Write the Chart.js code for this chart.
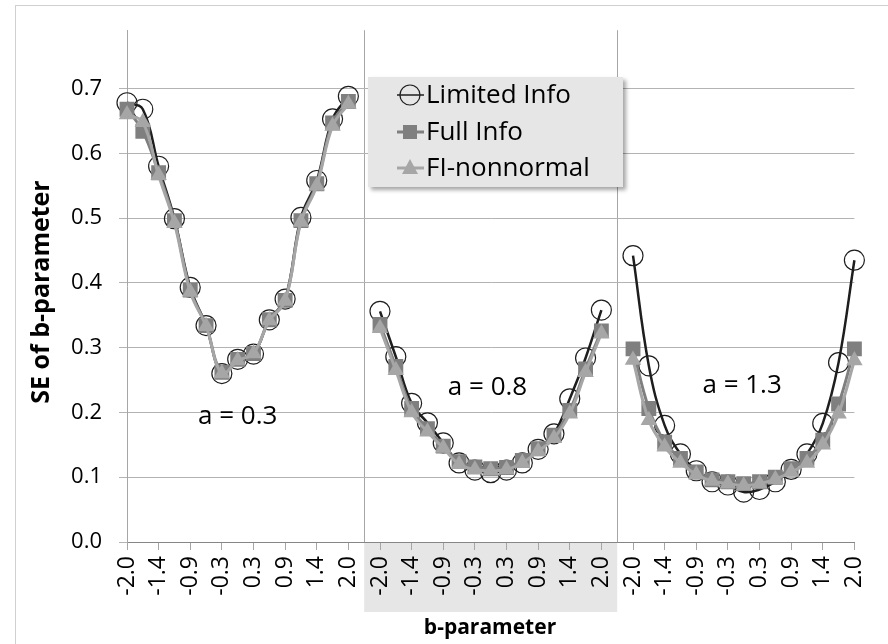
<!DOCTYPE html>
<html>
<head>
<meta charset="utf-8">
<script src="https://cdn.jsdelivr.net/npm/chart.js@4.4.1/dist/chart.umd.min.js"></script>
<style>
  html, body { margin: 0; padding: 0; background: #ffffff; }
  #wrap { width: 888px; height: 644px; position: relative; }
</style>
</head>
<body>
<div id="wrap"><canvas id="c" width="888" height="644"></canvas></div>
<script>
// ---------- DATA ----------
const bTickLabels = ['-2.0','-1.7','-1.4','-1.1','-0.9','-0.6','-0.3','0.0','0.3','0.6','0.9','1.1','1.4','1.7','2.0'];
const panelLabels = ['a = 0.3', 'a = 0.8', 'a = 1.3'];
const seriesNames = ['Limited Info', 'Full Info', 'FI-nonnormal'];

const limitedA03 = [0.678, 0.668, 0.580, 0.499, 0.393, 0.334, 0.260, 0.282, 0.290, 0.343, 0.375, 0.501, 0.558, 0.653, 0.688];
const fullA03    = [0.668, 0.634, 0.570, 0.496, 0.389, 0.334, 0.262, 0.282, 0.291, 0.343, 0.373, 0.496, 0.553, 0.647, 0.680];
const fiA03      = [0.660, 0.648, 0.566, 0.492, 0.386, 0.333, 0.260, 0.280, 0.291, 0.342, 0.372, 0.494, 0.550, 0.642, 0.676];

const limitedA08 = [0.356, 0.286, 0.214, 0.184, 0.153, 0.122, 0.111, 0.107, 0.111, 0.122, 0.143, 0.167, 0.221, 0.284, 0.358];
const fullA08    = [0.336, 0.271, 0.206, 0.175, 0.148, 0.124, 0.116, 0.113, 0.115, 0.126, 0.144, 0.165, 0.203, 0.267, 0.326];
const fiA08      = [0.330, 0.265, 0.200, 0.170, 0.145, 0.120, 0.112, 0.110, 0.112, 0.122, 0.140, 0.160, 0.198, 0.262, 0.322];

const limitedA13 = [0.442, 0.272, 0.180, 0.136, 0.110, 0.093, 0.088, 0.077, 0.081, 0.093, 0.112, 0.136, 0.183, 0.277, 0.435];
const fullA13    = [0.298, 0.206, 0.154, 0.129, 0.108, 0.096, 0.093, 0.090, 0.093, 0.100, 0.113, 0.129, 0.157, 0.213, 0.298];
const fiA13      = [0.281, 0.188, 0.147, 0.122, 0.104, 0.094, 0.090, 0.087, 0.090, 0.097, 0.108, 0.122, 0.150, 0.198, 0.280];

// ---------- BUILD ----------
function joinPanels(p1, p2, p3) { return [...p1, null, ...p2, null, ...p3]; }
const categories = [...bTickLabels, '', ...bTickLabels, '', ...bTickLabels];
const gapIdx = [bTickLabels.length, bTickLabels.length * 2 + 1];

const FONT = "'Open Sans', 'Noto Sans', 'Liberation Sans', sans-serif";
const COL_LI = '#1e1e1e', COL_FULL = '#7f7f7f', COL_FI = '#a6a6a6';

const extras = {
  id: 'extras',
  beforeDraw(chart) {
    const ctx = chart.ctx, xs = chart.scales.x, ca = chart.chartArea;
    const x1 = xs.getPixelForValue(gapIdx[0]), x2 = xs.getPixelForValue(gapIdx[1]);
    ctx.save();
    ctx.fillStyle = '#e6e6e6';
    ctx.fillRect(x1, ca.bottom + 1, x2 - x1, 69);
    ctx.restore();
  },
  afterDraw(chart) {
    const ctx = chart.ctx, xs = chart.scales.x, ys = chart.scales.y;
    ctx.save();
    // outer frame
    ctx.strokeStyle = '#d0d0d0'; ctx.lineWidth = 1;
    ctx.strokeRect(15.5, 5.5, 900, 700);

    // axis titles
    ctx.fillStyle = '#000';
    ctx.font = "bold 25px " + FONT;
    ctx.textAlign = 'center'; ctx.textBaseline = 'middle';
    ctx.save();
    ctx.translate(42, 292);
    ctx.rotate(-Math.PI / 2);
    ctx.fillText('SE of b-parameter', 0, 0);
    ctx.restore();
    ctx.font = "bold 21px " + FONT;
    ctx.fillText('b-parameter', 490, 628);

    // panel annotations
    const anchors = [[7, 0.194], [22.8, 0.238], [38.9, 0.241]];
    ctx.font = "26px " + FONT;
    panelLabels.forEach((t, i) => {
      ctx.fillText(t, xs.getPixelForValue(anchors[i][0]), ys.getPixelForValue(anchors[i][1]));
    });

    // legend box
    const lx = 368, ly = 77, lw = 255, lh = 110;
    ctx.save();
    ctx.shadowColor = 'rgba(0,0,0,0.35)';
    ctx.shadowBlur = 4; ctx.shadowOffsetX = 3; ctx.shadowOffsetY = 3;
    ctx.fillStyle = '#e6e6e6';
    ctx.fillRect(lx, ly, lw, lh);
    ctx.restore();
    const rows = [95, 132, 168];
    const cols = [COL_LI, COL_FULL, COL_FI];
    ctx.textAlign = 'left'; ctx.textBaseline = 'middle';
    ctx.font = "26px " + FONT;
    rows.forEach((ry, i) => {
      const mx = 410;
      ctx.strokeStyle = cols[i]; ctx.lineWidth = i === 0 ? 1.5 : 3;
      ctx.beginPath(); ctx.moveTo(397, ry); ctx.lineTo(424, ry); ctx.stroke();
      if (i === 0) {
        ctx.lineWidth = 1.2; ctx.strokeStyle = COL_LI;
        ctx.beginPath(); ctx.arc(mx, ry, 10, 0, Math.PI * 2); ctx.stroke();
      } else if (i === 1) {
        ctx.fillStyle = COL_FULL; ctx.fillRect(mx - 7, ry - 7, 14, 14);
      } else {
        ctx.fillStyle = COL_FI;
        ctx.beginPath(); ctx.moveTo(mx, ry - 9); ctx.lineTo(mx + 8, ry + 6); ctx.lineTo(mx - 8, ry + 6); ctx.closePath(); ctx.fill();
      }
      ctx.fillStyle = '#000';
      ctx.fillText(seriesNames[i], 426, ry + 1);
    });
    ctx.restore();
  }
};

new Chart(document.getElementById('c'), {
  type: 'line',
  data: {
    labels: categories,
    datasets: [
      { label: seriesNames[2], data: joinPanels(fiA03, fiA08, fiA13),
        borderColor: COL_FI, borderWidth: 3, tension: 0.4, spanGaps: false,
        pointStyle: 'triangle', pointRadius: 9.5, pointBackgroundColor: COL_FI, pointBorderColor: COL_FI, pointBorderWidth: 0 },
      { label: seriesNames[1], data: joinPanels(fullA03, fullA08, fullA13),
        borderColor: COL_FULL, borderWidth: 3, tension: 0.4, spanGaps: false,
        pointStyle: 'rect', pointRadius: 10.5, pointBackgroundColor: COL_FULL, pointBorderColor: COL_FULL, pointBorderWidth: 0 },
      { label: seriesNames[0], data: joinPanels(limitedA03, limitedA08, limitedA13),
        borderColor: COL_LI, borderWidth: 2.5, tension: 0.4, spanGaps: false,
        pointStyle: 'circle', pointRadius: 10, pointBackgroundColor: 'rgba(0,0,0,0)', pointBorderColor: COL_LI, pointBorderWidth: 1.2 }
    ]
  },
  options: {
    responsive: false,
    animation: false,
    devicePixelRatio: 1,
    layout: { padding: { left: 0, top: 28, right: 25, bottom: 0 } },
    plugins: { legend: { display: false }, tooltip: { enabled: false } },
    elements: { point: { hoverRadius: 10 } },
    scales: {
      x: {
        type: 'category',
        offset: false,
        grid: {
          color: c => gapIdx.includes(c.index) ? '#a6a6a6' : 'rgba(0,0,0,0)',
          lineWidth: 1,
          drawTicks: true,
          tickLength: 8,
          tickColor: c => (c.index % 2 === 0) ? '#a6a6a6' : 'rgba(0,0,0,0)'
        },
        border: { color: '#868686', width: 1 },
        ticks: {
          autoSkip: false, maxRotation: 90, minRotation: 90, padding: 6,
          color: '#000', font: { family: FONT, size: 23 },
          callback: (v, i) => (i % 2 === 0 ? categories[i] : '')
        },
        afterFit: s => { s.height = 102; }
      },
      y: {
        min: 0, max: 0.79,
        ticks: {
          stepSize: 0.1, includeBounds: false, padding: 17,
          color: '#000', font: { family: FONT, size: 22 },
          callback: v => Number(v).toFixed(1)
        },
        grid: { color: '#b3b3b3', lineWidth: 1, drawTicks: true, tickLength: 8, tickColor: '#b3b3b3' },
        border: { color: '#a6a6a6', width: 1 },
        afterFit: s => { s.width = 127; }
      }
    }
  },
  plugins: [extras]
});
</script>
</body>
</html>
